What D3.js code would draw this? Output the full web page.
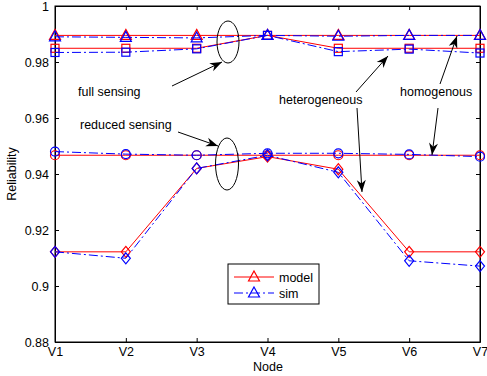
<!DOCTYPE html>
<html><head><meta charset="utf-8">
<script src="https://cdn.jsdelivr.net/npm/d3@7"></script>
<style>body{margin:0;background:#fff}svg{display:block}text{font-family:"Liberation Sans",Arial,sans-serif}</style>
</head><body><svg id="c" width="487" height="376"></svg>
<script>
const nodes = ["V1","V2","V3","V4","V5","V6","V7"];
const yTicks = [0.88,0.9,0.92,0.94,0.96,0.98,1];
const fullHomoModel = [0.9895,0.9895,0.9895,0.9895,0.9895,0.9895,0.9895];
const fullHomoSim   = [0.9890,0.9888,0.9886,0.9895,0.9892,0.9895,0.9895];
const fullHetModel  = [0.9849,0.9849,0.9849,0.9895,0.9849,0.9849,0.9849];
const fullHetSim    = [0.9834,0.9835,0.9847,0.9895,0.9837,0.9846,0.9832];
const redHomoModel  = [0.9467,0.9467,0.9467,0.9467,0.9467,0.9467,0.9467];
const redHomoSim    = [0.9480,0.9471,0.9467,0.9474,0.9474,0.9470,0.9462];
const redHetModel   = [0.9122,0.9122,0.9420,0.9462,0.9417,0.9122,0.9122];
const redHetSim     = [0.9122,0.9099,0.9420,0.9467,0.9406,0.9090,0.9071];
const legendLabels = ["model","sim"];

const svg = d3.select("#c");
const L=55, R=480, T=6, B=342;
const FS = 12.5;
const x = d3.scalePoint().domain(nodes).range([L,R]);
const y = d3.scaleLinear().domain([0.88,1]).range([B,T]);

svg.append("rect").attr("x",L).attr("y",T).attr("width",R-L).attr("height",B-T)
  .attr("fill","none").attr("stroke","#000").attr("stroke-width",1);

const fmt = d => d===1 ? "1" : (d===0.9 ? "0.9" : d3.format(".2f")(d));
const yAx = svg.append("g").attr("transform",`translate(${L},0)`)
  .call(d3.axisLeft(y).tickValues(yTicks).tickFormat(fmt).tickSizeInner(-4).tickSizeOuter(0).tickPadding(6));
const yAxR = svg.append("g").attr("transform",`translate(${R},0)`)
  .call(d3.axisRight(y).tickValues(yTicks).tickFormat("").tickSizeInner(-4).tickSizeOuter(0));
const xAx = svg.append("g").attr("transform",`translate(0,${B})`)
  .call(d3.axisBottom(x).tickSizeInner(-4).tickSizeOuter(0).tickPadding(5));
const xAxT = svg.append("g").attr("transform",`translate(0,${T})`)
  .call(d3.axisTop(x).tickFormat("").tickSizeInner(-4).tickSizeOuter(0));
[yAx,yAxR,xAx,xAxT].forEach(g=>{
  g.select(".domain").attr("stroke","#000");
  g.selectAll("line").attr("stroke","#000");
  g.selectAll("text").attr("font-size",FS).attr("fill","#000").attr("font-family","Liberation Sans, Arial, sans-serif");
});

svg.append("text").attr("x",268).attr("y",371).attr("text-anchor","middle").attr("font-size",FS).text("Node");
svg.append("text").attr("transform","translate(16,174) rotate(-90)").attr("text-anchor","middle").attr("font-size",FS).text("Reliability");

const line = d3.line().x((d,i)=>x(nodes[i])).y(d=>y(d));
const RED="#ff0000", BLUE="#0000ff", DASH="9,3,2,3";

function marker(g, type, cx, cy, col){
  if(type==="tri"){
    g.append("path").attr("d",`M${cx},${cy-6}L${cx+5.5},${cy+4}L${cx-5.5},${cy+4}Z`).attr("fill","none").attr("stroke",col).attr("stroke-width",1.2);
  } else if(type==="sq"){
    g.append("rect").attr("x",cx-4).attr("y",cy-4).attr("width",8).attr("height",8).attr("fill","none").attr("stroke",col).attr("stroke-width",1.2);
  } else if(type==="circ"){
    g.append("circle").attr("cx",cx).attr("cy",cy).attr("r",4.5).attr("fill","none").attr("stroke",col).attr("stroke-width",1.2);
  } else if(type==="dia"){
    g.append("path").attr("d",`M${cx},${cy-5.5}L${cx+4.5},${cy}L${cx},${cy+5.5}L${cx-4.5},${cy}Z`).attr("fill","none").attr("stroke",col).attr("stroke-width",1.2);
  }
}
function series(data, col, dash, type){
  const g = svg.append("g");
  g.append("path").datum(data).attr("d",line).attr("fill","none").attr("stroke",col).attr("stroke-width",1)
    .attr("stroke-dasharray",dash||null);
  data.forEach((d,i)=>marker(g,type,x(nodes[i]),y(d),col));
}
series(fullHomoModel,RED,null,"tri");
series(fullHetModel,RED,null,"sq");
series(redHomoModel,RED,null,"circ");
series(redHetModel,RED,null,"dia");
series(fullHomoSim,BLUE,DASH,"tri");
series(fullHetSim,BLUE,DASH,"sq");
series(redHomoSim,BLUE,DASH,"circ");
series(redHetSim,BLUE,DASH,"dia");

svg.append("ellipse").attr("cx",228).attr("cy",42).attr("rx",11).attr("ry",21).attr("fill","none").attr("stroke","#000");
svg.append("ellipse").attr("cx",227).attr("cy",164).attr("rx",11.5).attr("ry",26).attr("fill","none").attr("stroke","#000");

function arrow(x1,y1,x2,y2){
  svg.append("line").attr("x1",x1).attr("y1",y1).attr("x2",x2).attr("y2",y2).attr("stroke","#000").attr("stroke-width",1);
  const a=Math.atan2(y2-y1,x2-x1), len=12, w=4.5;
  const bx=x2-len*Math.cos(a), by=y2-len*Math.sin(a);
  const nx=-Math.sin(a), ny=Math.cos(a);
  const mx=x2-len*0.7*Math.cos(a), my=y2-len*0.7*Math.sin(a);
  svg.append("path").attr("d",`M${x2},${y2}L${bx+nx*w},${by+ny*w}L${mx},${my}L${bx-nx*w},${by-ny*w}Z`).attr("fill","#000");
}
svg.append("text").attr("x",78).attr("y",96).attr("font-size",FS).text("full sensing");
arrow(172,86,222,62);
svg.append("text").attr("x",80).attr("y",129).attr("font-size",FS).text("reduced sensing");
arrow(178,132,218,146);
svg.append("text").attr("x",279).attr("y",104).attr("font-size",FS).text("heterogeneous");
arrow(356,92,388,56);
arrow(357,108,362,192);
svg.append("text").attr("x",400).attr("y",96).attr("font-size",FS).text("homogenous");
arrow(440,84,457,36);
arrow(438,108,432,155);

const lg = svg.append("g");
lg.append("rect").attr("x",228).attr("y",264).attr("width",91).attr("height",40).attr("fill","#fff").attr("stroke","#000");
legendLabels.forEach((lab,i)=>{
  const ly = 277 + i*16, col = i===0?RED:BLUE;
  lg.append("line").attr("x1",234).attr("x2",274).attr("y1",ly).attr("y2",ly).attr("stroke",col).attr("stroke-width",1)
    .attr("stroke-dasharray",i===0?null:DASH);
  marker(lg,"tri",254,ly,col);
  lg.append("text").attr("x",279).attr("y",ly+4.5).attr("font-size",FS).text(lab);
});
</script></body></html>
